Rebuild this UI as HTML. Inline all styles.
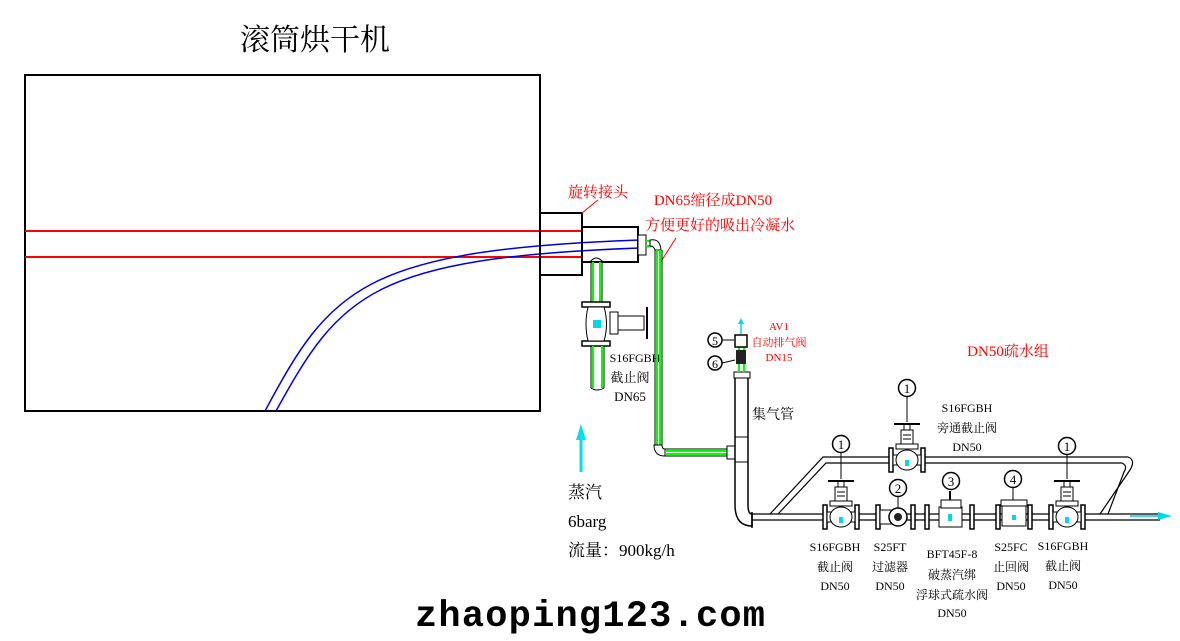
<!DOCTYPE html>
<html><head><meta charset="utf-8"><style>
html,body{margin:0;padding:0;background:#fff;}
svg{display:block;}
text{font-family:"Liberation Serif","Noto Serif CJK SC","Noto Sans CJK SC",serif;}
</style></head><body>
<svg width="1180" height="641" viewBox="0 0 1180 641" xmlns="http://www.w3.org/2000/svg">
<defs>
<g id="gv">
  <rect x="-18" y="-12" width="4" height="24" fill="#fff" stroke="#000" stroke-width="1.5"/>
  <rect x="14" y="-12" width="4" height="24" fill="#fff" stroke="#000" stroke-width="1.5"/>
  <rect x="-14" y="-5" width="28" height="10" fill="#fff" stroke="#000"/>
  <ellipse cx="0" cy="0" rx="11" ry="10" fill="#fff" stroke="#000"/>
  <rect x="-2" y="0" width="4" height="6" fill="#00d8e8"/>
  <rect x="-11" y="-16" width="22" height="5" fill="#fff" stroke="#000"/>
  <rect x="-6" y="-30" width="12" height="14" fill="#fff" stroke="#000"/>
  <line x1="-4" y1="-25" x2="4" y2="-25" stroke="#000"/>
  <line x1="-4" y1="-21" x2="4" y2="-21" stroke="#000"/>
  <rect x="-3" y="-36" width="6" height="6" fill="#fff" stroke="#000"/>
  <line x1="-13" y1="-36" x2="13" y2="-36" stroke="#000" stroke-width="2"/>
</g>
<g id="lbl1">
  <circle cx="0" cy="0" r="8.5" fill="#fff" stroke="#000" stroke-width="1.5"/>
  <text x="0" y="5" font-size="13" text-anchor="middle">1</text>
</g>
</defs>

<text x="315" y="50" font-size="30" text-anchor="middle">滚筒烘干机</text>

<rect x="25" y="75" width="515" height="336" fill="none" stroke="#000" stroke-width="2"/>

<line x1="25" y1="231" x2="582" y2="231" stroke="#f00" stroke-width="2"/>
<line x1="25" y1="257" x2="582" y2="257" stroke="#f00" stroke-width="2"/>
<path d="M265 411 C330 290 360 250 640 240" fill="none" stroke="#0000e0" stroke-width="1.5"/>
<path d="M276 411 C340 295 370 258 640 248" fill="none" stroke="#0000e0" stroke-width="1.5"/>

<rect x="540" y="213" width="42" height="62" fill="none" stroke="#000" stroke-width="2"/>
<rect x="582" y="227" width="56" height="35" fill="none" stroke="#000" stroke-width="2"/>
<rect x="638" y="235" width="8" height="20" fill="#fff" stroke="#000"/>
<line x1="646" y1="241" x2="652" y2="241" stroke="#0f0" stroke-width="2"/>
<line x1="646" y1="246" x2="652" y2="246" stroke="#0f0" stroke-width="2"/>
<path d="M650 240 Q660 238 661 250 L655 250 Q654 246 650 246 Z" fill="#fff" stroke="#000"/>
<text x="568" y="197" font-size="15" fill="#f00">旋转接头</text>
<line x1="582" y1="213" x2="598" y2="200" stroke="#f00"/>
<text x="713" y="205" font-size="15" fill="#f00" text-anchor="middle">DN65缩径成DN50</text>
<text x="645" y="230" font-size="15" fill="#f00">方便更好的吸出冷凝水</text>
<line x1="660" y1="263" x2="676" y2="238" stroke="#f00"/>

<line x1="591" y1="262" x2="591" y2="302" stroke="#000"/><line x1="602" y1="262" x2="602" y2="302" stroke="#000"/>
<line x1="593" y1="262" x2="593" y2="302" stroke="#0f0" stroke-width="2"/><line x1="600" y1="262" x2="600" y2="302" stroke="#0f0" stroke-width="2"/>
<path d="M590 262 Q596 254 603 262" fill="none" stroke="#000"/>
<rect x="582" y="302" width="28" height="5" fill="#fff" stroke="#000" stroke-width="1.5"/>
<rect x="582" y="341" width="28" height="5" fill="#fff" stroke="#000" stroke-width="1.5"/>
<path d="M588 307 Q584 324 588 341 L604 341 Q609 324 604 307 Z" fill="#fff" stroke="#000"/>
<rect x="593" y="320" width="8" height="8" fill="#00d8e8"/>
<rect x="610" y="312" width="8" height="22" fill="#fff" stroke="#000"/>
<rect x="618" y="316" width="26" height="14" fill="#fff" stroke="#000"/>
<line x1="647" y1="307" x2="647" y2="339" stroke="#000" stroke-width="2"/>
<line x1="591" y1="346" x2="591" y2="388" stroke="#000"/><line x1="604" y1="346" x2="604" y2="388" stroke="#000"/>
<line x1="593" y1="346" x2="593" y2="388" stroke="#0f0" stroke-width="2"/><line x1="602" y1="346" x2="602" y2="388" stroke="#0f0" stroke-width="2"/>
<path d="M591 388 Q597 392 604 388" fill="none" stroke="#000"/>
<text x="635" y="362" font-size="12" text-anchor="middle">S16FGBH</text>
<text x="630" y="382" font-size="13" text-anchor="middle">截止阀</text>
<text x="630" y="401" font-size="13" text-anchor="middle">DN65</text>

<line x1="655" y1="250" x2="655" y2="448" stroke="#000"/>
<line x1="662" y1="250" x2="662" y2="448" stroke="#000"/>
<line x1="657" y1="250" x2="657" y2="448" stroke="#0f0" stroke-width="2"/>
<line x1="660" y1="250" x2="660" y2="448" stroke="#0f0" stroke-width="2"/>
<path d="M654 445 Q654 456 665 456 L665 449 Q662 449 662 445 Z" fill="#fff" stroke="#000"/>
<line x1="665" y1="449" x2="727" y2="449" stroke="#000"/>
<line x1="665" y1="456" x2="727" y2="456" stroke="#000"/>
<line x1="665" y1="451" x2="727" y2="451" stroke="#0f0" stroke-width="2"/>
<line x1="665" y1="454" x2="727" y2="454" stroke="#0f0" stroke-width="2"/>
<rect x="727" y="446" width="8" height="13" fill="#fff" stroke="#000"/>

<rect x="734" y="372" width="16" height="6" fill="#fff" stroke="#000"/>
<line x1="735" y1="378" x2="735" y2="505" stroke="#000" stroke-width="1.5"/>
<line x1="748" y1="378" x2="748" y2="505" stroke="#000" stroke-width="1.5"/>
<line x1="735" y1="437" x2="748" y2="437" stroke="#000"/>
<line x1="735" y1="462" x2="748" y2="462" stroke="#000"/>
<path d="M735 505 Q735 526 752 526 L752 514 Q748 514 748 505" fill="#fff" stroke="#000" stroke-width="1.5"/>
<line x1="752" y1="512" x2="752" y2="528" stroke="#000" stroke-width="1.5"/>
<text x="752" y="419" font-size="14">集气管</text>
<line x1="739" y1="340" x2="739" y2="372" stroke="#0f0" stroke-width="2"/>
<line x1="744" y1="340" x2="744" y2="372" stroke="#0f0" stroke-width="2"/>
<rect x="735" y="335" width="12" height="12" fill="#fff" stroke="#000" stroke-width="1.5"/>
<rect x="736" y="350" width="10" height="14" fill="#222"/>
<line x1="741" y1="334" x2="741" y2="322" stroke="#00d8e8" stroke-width="1.5"/>
<path d="M738 324 L741 318 L744 324 Z" fill="#00d8e8"/>
<circle cx="715" cy="340" r="7" fill="#fff" stroke="#000" stroke-width="1.5"/>
<text x="715" y="345" font-size="12" text-anchor="middle">5</text>
<line x1="722" y1="340" x2="734" y2="340" stroke="#000"/>
<circle cx="715" cy="363" r="7" fill="#fff" stroke="#000" stroke-width="1.5"/>
<text x="715" y="368" font-size="12" text-anchor="middle">6</text>
<line x1="722" y1="363" x2="735" y2="360" stroke="#000"/>
<text x="779" y="330" font-size="11" fill="#f00" text-anchor="middle">AV1</text>
<text x="779" y="346" font-size="11" fill="#f00" text-anchor="middle">自动排气阀</text>
<text x="779" y="361" font-size="11" fill="#f00" text-anchor="middle">DN15</text>
<text x="1008" y="356" font-size="15" fill="#f00" text-anchor="middle">DN50疏水组</text>

<path d="M752 514 L1160 514 M752 520 L1160 520" stroke="#000" stroke-width="1.2" fill="none"/>
<path d="M770 514 L823 457 L1128 457 Q1136 460 1130 470 L1100 514" stroke="#000" stroke-width="1.2" fill="none"/>
<path d="M778 514 L826 463 L1122 463 Q1128 466 1124 472 L1108 514" stroke="#000" stroke-width="1.2" fill="none"/>
<rect x="780" y="515" width="370" height="4" fill="#fff"/>
<rect x="826" y="458" width="300" height="4" fill="#fff"/>
<line x1="1130" y1="516" x2="1160" y2="516" stroke="#00c8e0" stroke-width="1.5"/>
<path d="M1158 512 L1172 516 L1158 520 Z" fill="#00d8e8"/>

<use href="#gv" x="841" y="517"/>
<use href="#gv" x="1067" y="517"/>
<use href="#gv" x="907" y="460"/>
<rect x="876" y="505" width="4" height="24" fill="#fff" stroke="#000" stroke-width="1.5"/>
<rect x="911" y="505" width="4" height="24" fill="#fff" stroke="#000" stroke-width="1.5"/>
<rect x="880" y="510" width="12" height="14" fill="#fff" stroke="#000"/>
<circle cx="898" cy="517" r="9" fill="#fff" stroke="#000" stroke-width="1.5"/>
<circle cx="898" cy="517" r="4" fill="#222"/>
<rect x="925" y="505" width="4" height="24" fill="#fff" stroke="#000" stroke-width="1.5"/>
<rect x="970" y="505" width="4" height="24" fill="#fff" stroke="#000" stroke-width="1.5"/>
<rect x="939" y="507" width="23" height="20" fill="#fff" stroke="#000"/>
<rect x="941" y="500" width="20" height="8" fill="#fff" stroke="#000"/>
<rect x="948" y="514" width="4" height="7" fill="#00d8e8"/>
<line x1="950" y1="491" x2="950" y2="500" stroke="#000" stroke-width="2"/>
<rect x="996" y="505" width="4" height="24" fill="#fff" stroke="#000" stroke-width="1.5"/>
<rect x="1028" y="505" width="4" height="24" fill="#fff" stroke="#000" stroke-width="1.5"/>
<rect x="1002" y="506" width="24" height="20" fill="#fff" stroke="#000"/>
<rect x="1001" y="500" width="26" height="6" fill="#fff" stroke="#000"/>
<rect x="1012" y="515" width="4" height="5" fill="#00d8e8"/>

<use href="#lbl1" x="841" y="444"/><line x1="841" y1="453" x2="841" y2="479" stroke="#000"/>
<use href="#lbl1" x="907" y="388"/><line x1="907" y1="397" x2="907" y2="422" stroke="#000"/>
<use href="#lbl1" x="1067" y="446"/><line x1="1067" y1="455" x2="1067" y2="479" stroke="#000"/>
<circle cx="898" cy="488" r="8.5" fill="#fff" stroke="#000" stroke-width="1.5"/><text x="898" y="493" font-size="13" text-anchor="middle">2</text>
<line x1="898" y1="497" x2="898" y2="508" stroke="#000"/>
<circle cx="951" cy="481" r="8.5" fill="#fff" stroke="#000" stroke-width="1.5"/><text x="951" y="486" font-size="13" text-anchor="middle">3</text>
<circle cx="1013" cy="479" r="8.5" fill="#fff" stroke="#000" stroke-width="1.5"/><text x="1013" y="484" font-size="13" text-anchor="middle">4</text>
<line x1="1013" y1="488" x2="1013" y2="500" stroke="#000"/>

<g font-size="12" text-anchor="middle">
<text x="967" y="412">S16FGBH</text><text x="967" y="432">旁通截止阀</text><text x="967" y="451">DN50</text>
<text x="835" y="551">S16FGBH</text><text x="835" y="571">截止阀</text><text x="835" y="590">DN50</text>
<text x="890" y="551">S25FT</text><text x="890" y="571">过滤器</text><text x="890" y="590">DN50</text>
<text x="952" y="558">BFT45F-8</text><text x="952" y="579">破蒸汽绑</text><text x="952" y="599">浮球式疏水阀</text><text x="952" y="617">DN50</text>
<text x="1011" y="551">S25FC</text><text x="1011" y="571">止回阀</text><text x="1011" y="590">DN50</text>
<text x="1063" y="550">S16FGBH</text><text x="1063" y="570">截止阀</text><text x="1063" y="589">DN50</text>
</g>

<line x1="581" y1="440" x2="581" y2="472" stroke="#00e0f0" stroke-width="3"/>
<path d="M576 440 L581 424 L586 440 Z" fill="#00e0f0"/>
<text x="568" y="498" font-size="17">蒸汽</text>
<text x="568" y="527" font-size="17">6barg</text>
<text x="568" y="556" font-size="17">流量：900kg/h</text>

<text x="415" y="626" font-size="37" font-weight="bold" textLength="350" style="font-family:'Liberation Mono',monospace">zhaoping123.com</text>
</svg>
</body></html>
